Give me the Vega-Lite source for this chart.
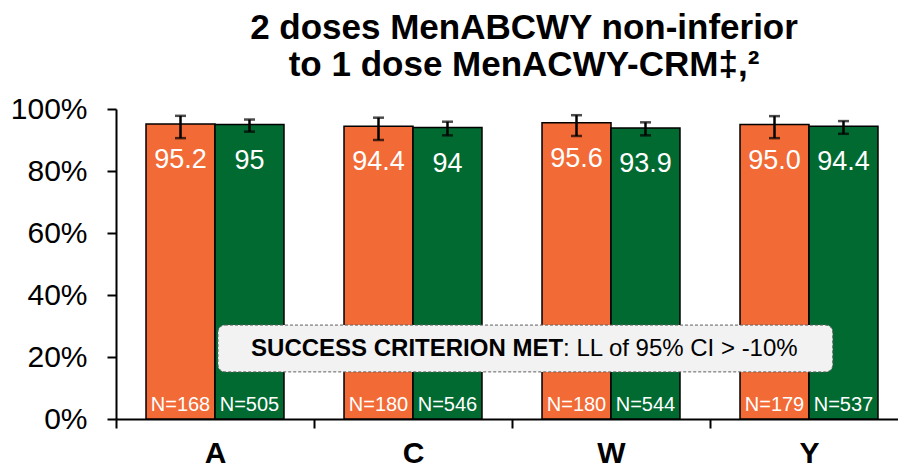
{
  "$schema": "https://vega.github.io/schema/vega-lite/v6.json",
  "autosize": {"type": "none"},
  "padding": {"left": 116, "top": 109, "right": 0, "bottom": 57},
  "width": 782,
  "height": 310,
  "background": "white",
  "config": {"view": {"stroke": null}, "font": "Liberation Sans"},
  "title": {
    "text": ["2 doses MenABCWY non-inferior", "to 1 dose MenACWY-CRM‡,²"],
    "font": "Liberation Sans",
    "fontSize": 35,
    "fontWeight": "bold",
    "color": "#000000",
    "anchor": "middle",
    "lineHeight": 37,
    "offset": 11,
    "dx": 17
  },
  "layer": [
    {
      "data": {
        "values": [
          {"serogroup": "A", "group": "2 doses MenABCWY", "value": 95.2, "label": "95.2", "lower": 90.6, "upper": 97.8, "n": "N=168"},
          {"serogroup": "A", "group": "1 dose MenACWY-CRM", "value": 95.0, "label": "95", "lower": 92.7, "upper": 96.6, "n": "N=505"},
          {"serogroup": "C", "group": "2 doses MenABCWY", "value": 94.4, "label": "94.4", "lower": 90.0, "upper": 97.2, "n": "N=180"},
          {"serogroup": "C", "group": "1 dose MenACWY-CRM", "value": 94.0, "label": "94", "lower": 91.5, "upper": 95.9, "n": "N=546"},
          {"serogroup": "W", "group": "2 doses MenABCWY", "value": 95.6, "label": "95.6", "lower": 91.3, "upper": 98.0, "n": "N=180"},
          {"serogroup": "W", "group": "1 dose MenACWY-CRM", "value": 93.9, "label": "93.9", "lower": 91.5, "upper": 95.7, "n": "N=544"},
          {"serogroup": "Y", "group": "2 doses MenABCWY", "value": 95.0, "label": "95.0", "lower": 90.6, "upper": 97.7, "n": "N=179"},
          {"serogroup": "Y", "group": "1 dose MenACWY-CRM", "value": 94.4, "label": "94.4", "lower": 92.0, "upper": 96.1, "n": "N=537"}
        ]
      },
      "encoding": {
        "x": {
          "field": "serogroup",
          "type": "nominal",
          "sort": ["A", "C", "W", "Y"],
          "scale": {"range": [0, 792], "paddingInner": 0, "paddingOuter": 0},
          "axis": {
            "title": null,
            "labelAngle": 0,
            "labelFont": "Liberation Sans",
            "labelFontSize": 30,
            "labelFontWeight": "bold",
            "labelColor": "#000000",
            "labelPadding": 10,
            "tickBand": "extent",
            "tickSize": 9,
            "tickWidth": 2,
            "tickColor": "#000000",
            "domainColor": "#000000",
            "domainWidth": 2
          }
        },
        "xOffset": {
          "field": "group",
          "type": "nominal",
          "sort": ["2 doses MenABCWY", "1 dose MenACWY-CRM"],
          "scale": {"paddingInner": 0, "paddingOuter": 0.435}
        }
      },
      "layer": [
        {
          "mark": {"type": "bar", "stroke": "#000000", "strokeWidth": 1.5},
          "encoding": {
            "y": {
              "field": "value",
              "type": "quantitative",
              "scale": {"domain": [0, 100], "nice": false},
              "axis": {
                "title": null,
                "values": [0, 20, 40, 60, 80, 100],
                "labelExpr": "datum.value + '%'",
                "labelFont": "Liberation Sans",
                "labelFontSize": 30,
                "labelColor": "#000000",
                "labelPadding": 20,
                "tickSize": 9,
                "tickWidth": 2,
                "tickColor": "#000000",
                "domainColor": "#000000",
                "domainWidth": 2,
                "grid": false
              }
            },
            "color": {
              "field": "group",
              "type": "nominal",
              "scale": {"domain": ["2 doses MenABCWY", "1 dose MenACWY-CRM"], "range": ["#F26A36", "#006A31"]},
              "legend": null
            }
          }
        },
        {
          "mark": {"type": "rule", "color": "#000000", "strokeWidth": 2.5},
          "encoding": {
            "y": {"field": "lower", "type": "quantitative"},
            "y2": {"field": "upper"}
          }
        },
        {
          "mark": {"type": "tick", "color": "#000000", "size": 11, "thickness": 2.5},
          "encoding": {"y": {"field": "lower", "type": "quantitative"}}
        },
        {
          "mark": {"type": "tick", "color": "#000000", "size": 11, "thickness": 2.5},
          "encoding": {"y": {"field": "upper", "type": "quantitative"}}
        },
        {
          "mark": {"type": "text", "color": "#FFFFFF", "font": "Liberation Sans", "fontSize": 27, "baseline": "alphabetic", "dy": 44},
          "encoding": {
            "y": {"field": "value", "type": "quantitative"},
            "text": {"field": "label", "type": "nominal"}
          }
        },
        {
          "mark": {"type": "text", "color": "#FFFFFF", "font": "Liberation Sans", "fontSize": 20, "baseline": "alphabetic", "dy": -8},
          "encoding": {
            "y": {"datum": 0, "type": "quantitative"},
            "text": {"field": "n", "type": "nominal"}
          }
        }
      ]
    },
    {
      "data": {"values": [{"note": "SUCCESS CRITERION MET", "detail": ": LL of 95% CI > -10%"}]},
      "layer": [
        {
          "mark": {"type": "rect", "fill": "#F2F2F2", "stroke": "#5F5F5F", "strokeWidth": 1, "strokeDash": [3, 2], "cornerRadius": 7},
          "encoding": {
            "x": {"datum": 0.515, "type": "quantitative", "scale": {"domain": [0, 4], "range": [0, 792]}, "axis": null},
            "x2": {"datum": 3.62},
            "y": {"datum": 15.2, "type": "quantitative"},
            "y2": {"datum": 30.3}
          }
        },
        {
          "mark": {"type": "text", "color": "#000000", "font": "Liberation Sans", "fontSize": 24, "fontWeight": "bold", "align": "right", "baseline": "middle"},
          "encoding": {
            "x": {"datum": 2.258, "type": "quantitative"},
            "y": {"datum": 22.7, "type": "quantitative"},
            "text": {"field": "note"}
          }
        },
        {
          "mark": {"type": "text", "color": "#000000", "font": "Liberation Sans", "fontSize": 24, "align": "left", "baseline": "middle"},
          "encoding": {
            "x": {"datum": 2.258, "type": "quantitative"},
            "y": {"datum": 22.7, "type": "quantitative"},
            "text": {"field": "detail"}
          }
        }
      ]
    }
  ],
  "resolve": {"scale": {"x": "independent"}}
}
